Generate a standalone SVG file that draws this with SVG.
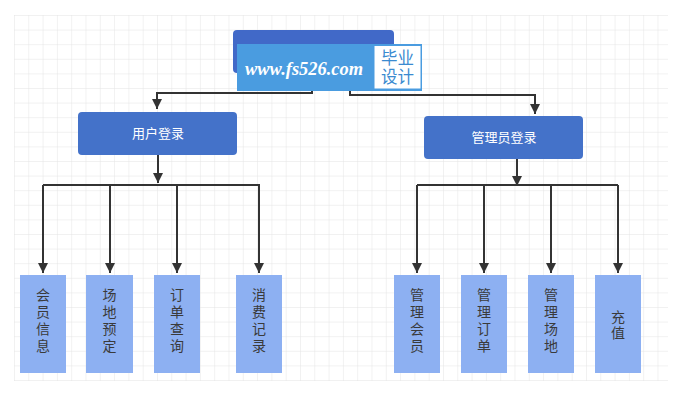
<svg xmlns="http://www.w3.org/2000/svg" width="684" height="408" viewBox="0 0 684 408">
<defs>
<pattern id="grid" x="14" y="15" width="14.3" height="14.6" patternUnits="userSpaceOnUse">
<path d="M0 0V14.6M0 0H14.3" fill="none" stroke="#e4e4e4" stroke-width="1"/>
</pattern>
<marker id="arr" viewBox="0 0 10 10" refX="10" refY="5" markerWidth="5" markerHeight="5" orient="auto" markerUnits="strokeWidth">
<path d="M0 0L10 5L0 10z" fill="#333"/>
</marker>
<style>
.mid{fill:#4472c9;}
.mt{fill:#fff;font-family:"Liberation Sans","Noto Sans CJK SC",sans-serif;font-size:13px;text-anchor:middle;}
.leaf{fill:#8db0f2;}
.lt{fill:#3a3a3a;font-family:"Liberation Sans","Noto Sans CJK SC",sans-serif;font-size:14px;text-anchor:middle;}
.wm{font-family:"Liberation Sans","Noto Sans CJK SC",sans-serif;font-size:16.5px;fill:#3a8ad0;text-anchor:middle;}
.con{fill:none;stroke:#333;stroke-width:2;}
</style>
</defs>
<rect width="684" height="408" fill="#fff"/>
<rect x="14" y="15" width="654" height="366" fill="url(#grid)"/>
<g id="connectors">
<path class="con" d="M312 91V93H157V109" marker-end="url(#arr)"/>
<path class="con" d="M350 91V95H535V114" marker-end="url(#arr)"/>
<path class="con" d="M158 155V183" marker-end="url(#arr)"/>
<path class="con" d="M43 185H260"/>
<path class="con" d="M43 185V273" marker-end="url(#arr)"/>
<path class="con" d="M110 185V273" marker-end="url(#arr)"/>
<path class="con" d="M177 185V273" marker-end="url(#arr)"/>
<path class="con" d="M259 185V273" marker-end="url(#arr)"/>
<path class="con" d="M517 159V186" marker-end="url(#arr)"/>
<path class="con" d="M417 185H618"/>
<path class="con" d="M417 185V273" marker-end="url(#arr)"/>
<path class="con" d="M484 185V273" marker-end="url(#arr)"/>
<path class="con" d="M551 185V273" marker-end="url(#arr)"/>
<path class="con" d="M618 185V273" marker-end="url(#arr)"/>
</g>
<g id="root">
<rect x="233" y="30" width="161" height="43" rx="4" fill="#4169c8"/>
<rect x="237" y="44" width="185" height="47" fill="#4a9ce0"/>
<text x="245" y="75" font-family="Liberation Serif,serif" font-size="18" font-style="italic" font-weight="bold" fill="#fff" textLength="118" lengthAdjust="spacingAndGlyphs">www.fs526.com</text>
<rect x="374" y="45.5" width="47" height="43.5" fill="#fff" stroke="#4a9ce0" stroke-width="1"/>
<text class="wm" x="397.5" y="64">毕业</text>
<text class="wm" x="397.5" y="83">设计</text>
</g>
<g id="user">
<rect class="mid" x="78" y="112" width="159" height="43" rx="4"/>
<text class="mt" x="158" y="138">用户登录</text>
</g>
<g id="admin">
<rect class="mid" x="424" y="116" width="159" height="43" rx="4"/>
<text class="mt" x="504" y="142">管理员登录</text>
</g>
<g id="n1"><rect class="leaf" x="20" y="275" width="46" height="98"/>
<text class="lt"><tspan x="43" y="300">会</tspan><tspan x="43" y="317">员</tspan><tspan x="43" y="334">信</tspan><tspan x="43" y="351">息</tspan></text></g>
<g id="n2"><rect class="leaf" x="86" y="275" width="47" height="98"/>
<text class="lt"><tspan x="109.5" y="300">场</tspan><tspan x="109.5" y="317">地</tspan><tspan x="109.5" y="334">预</tspan><tspan x="109.5" y="351">定</tspan></text></g>
<g id="n3"><rect class="leaf" x="154" y="275" width="46" height="98"/>
<text class="lt"><tspan x="177" y="300">订</tspan><tspan x="177" y="317">单</tspan><tspan x="177" y="334">查</tspan><tspan x="177" y="351">询</tspan></text></g>
<g id="n4"><rect class="leaf" x="236" y="275" width="46" height="98"/>
<text class="lt"><tspan x="259" y="300">消</tspan><tspan x="259" y="317">费</tspan><tspan x="259" y="334">记</tspan><tspan x="259" y="351">录</tspan></text></g>
<g id="n5"><rect class="leaf" x="394" y="275" width="46" height="98"/>
<text class="lt"><tspan x="417" y="300">管</tspan><tspan x="417" y="317">理</tspan><tspan x="417" y="334">会</tspan><tspan x="417" y="351">员</tspan></text></g>
<g id="n6"><rect class="leaf" x="461" y="275" width="46" height="98"/>
<text class="lt"><tspan x="484" y="300">管</tspan><tspan x="484" y="317">理</tspan><tspan x="484" y="334">订</tspan><tspan x="484" y="351">单</tspan></text></g>
<g id="n7"><rect class="leaf" x="528" y="275" width="46" height="98"/>
<text class="lt"><tspan x="551" y="300">管</tspan><tspan x="551" y="317">理</tspan><tspan x="551" y="334">场</tspan><tspan x="551" y="351">地</tspan></text></g>
<g id="n8"><rect class="leaf" x="595" y="275" width="46" height="98"/>
<text class="lt"><tspan x="618" y="322">充</tspan><tspan x="618" y="338">值</tspan></text></g>
</svg>
